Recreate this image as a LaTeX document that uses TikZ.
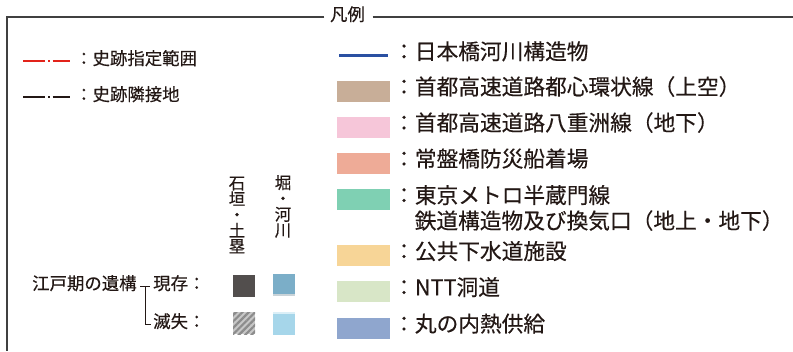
\documentclass[tikz,border=0pt]{standalone}
\usepackage{fontspec}
\setmainfont{Noto Sans CJK JP}[FakeBold=0.3]
\usepackage{tikz}
\usetikzlibrary{patterns.meta}
\definecolor{ink}{HTML}{231815}
\definecolor{cRed}{HTML}{E2231A}
\definecolor{cBridge}{HTML}{2A50A2}
\definecolor{cBrown}{HTML}{C8AE98}
\definecolor{cPink}{HTML}{F6C6D9}
\definecolor{cSalmon}{HTML}{EEAB97}
\definecolor{cMetro}{HTML}{7FD0B3}
\definecolor{cSewer}{HTML}{F7D597}
\definecolor{cNtt}{HTML}{D8E6C7}
\definecolor{cHeat}{HTML}{8FA6CE}
\definecolor{cStone}{HTML}{524E4D}
\definecolor{cMoat}{HTML}{7BAEC8}
\definecolor{cMoatEdge}{HTML}{C9D3D8}
\definecolor{cMoatLost}{HTML}{A6D6EA}
\tikzset{
  lbl/.style={anchor=west, inner sep=0pt, text height=0.88em, text depth=0.12em, text=ink, font=\fontsize{21.7}{21.7}\selectfont},
  lbls/.style={lbl, font=\fontsize{17.4}{17.4}\selectfont},
  vtext/.style={anchor=center, align=center, inner sep=0pt, text=ink, font=\fontsize{16.5}{15.8}\selectfont},
  swatch/.style={minimum width=53pt, minimum height=21pt, inner sep=0pt},
  patch/.style={minimum width=22pt, minimum height=22pt, inner sep=0pt},
  chainline/.style={line width=2.2pt, dash pattern=on 22.3pt off 2.7pt on 2pt off 2.7pt on 18.3pt},
  frame/.style={draw=black!75, line width=1.1pt}
}
\begin{document}
\begin{tikzpicture}[x=1pt, y=-1pt]
  \useasboundingbox (0,0) rectangle (793,351);
  \node[lbls, anchor=center] (title) at (347.5,17) {凡例};
  \draw[frame] ([xshift=-5.5pt]title.west) -- (7,17) -- (7,351);
  \draw[frame] ([xshift=7.5pt]title.east) -- (793,17);

  \draw[chainline, cRed] (23,61) -- (70,61);
  \node[lbls] (hist) at (75,61) {：史跡指定範囲};
  \draw[chainline, ink] (23,97) -- (70,97);
  \node[lbls] (adj) at (75,97) {：史跡隣接地};

  \draw[cBridge, line width=3pt] (339,55.7) -- (388,55.7);
  \node[lbl] (nb) at (393,55.7) {：日本橋河川構造物};
  \node[swatch, fill=cBrown] (s1) at (363.5,91) {};
  \node[lbl] (t1) at (393,91) {：首都高速道路都心環状線（上空）};
  \node[swatch, fill=cPink] (s2) at (363.5,127) {};
  \node[lbl] (t2) at (393,127) {：首都高速道路八重洲線（地下）};
  \node[swatch, fill=cSalmon] (s3) at (363.5,163) {};
  \node[lbl] (t3) at (393,163) {：常盤橋防災船着場};
  \node[swatch, fill=cMetro] (s4) at (363.5,199.5) {};
  \node[lbl] (t4) at (393,199.5) {：東京メトロ半蔵門線};
  \node[lbl] (t4b) at (414.5,225) {鉄道構造物及び換気口（地上・地下）};
  \node[swatch, fill=cSewer] (s5) at (363.5,255.5) {};
  \node[lbl] (t5) at (393,255.5) {：公共下水道施設};
  \node[swatch, fill=cNtt] (s6) at (363.5,291.5) {};
  \node[lbl] (t6) at (393,291.5) {：NTT洞道};
  \node[swatch, fill=cHeat] (s7) at (363.5,328) {};
  \node[lbl] (t7) at (393,328) {：丸の内熱供給};

  \node[vtext] (ishi) at (237,215) {石\\垣\\・\\土\\塁};
  \node[vtext] (hori) at (283,206.5) {堀\\・\\河\\川};
  \node[lbls] (edo) at (32,286) {江戸期の遺構};
  \node[lbls] (gen) at (153,286) {現存：};
  \node[lbls] (loss) at (153,324) {滅失：};
  \coordinate (fork) at (145,286);
  \draw[ink, line width=1pt] ([xshift=-5pt]fork) -- ([xshift=5pt]fork);
  \draw[ink, line width=1pt] (fork) |- ([xshift=-2pt]loss.west);

  \node[patch, fill=cStone] (ishi-gen) at (244,286) {};
  \node[patch, fill=cMoat] (hori-gen) at (284,285) {};
  \fill[cMoatEdge] (hori-gen.south west) rectangle ([yshift=2pt]hori-gen.south east);
  \node[patch, preaction={fill=black!22}, pattern={Lines[angle=45, distance=4.5pt, line width=2.2pt]}, pattern color=black!45] (ishi-loss) at (244,323) {};
  \node[patch, fill=cMoatLost] (hori-loss) at (284,323.5) {};
  \fill[cMoatLost!40] (hori-loss.north west) rectangle ([yshift=-1.2pt]hori-loss.north east);
\end{tikzpicture}
\end{document}
